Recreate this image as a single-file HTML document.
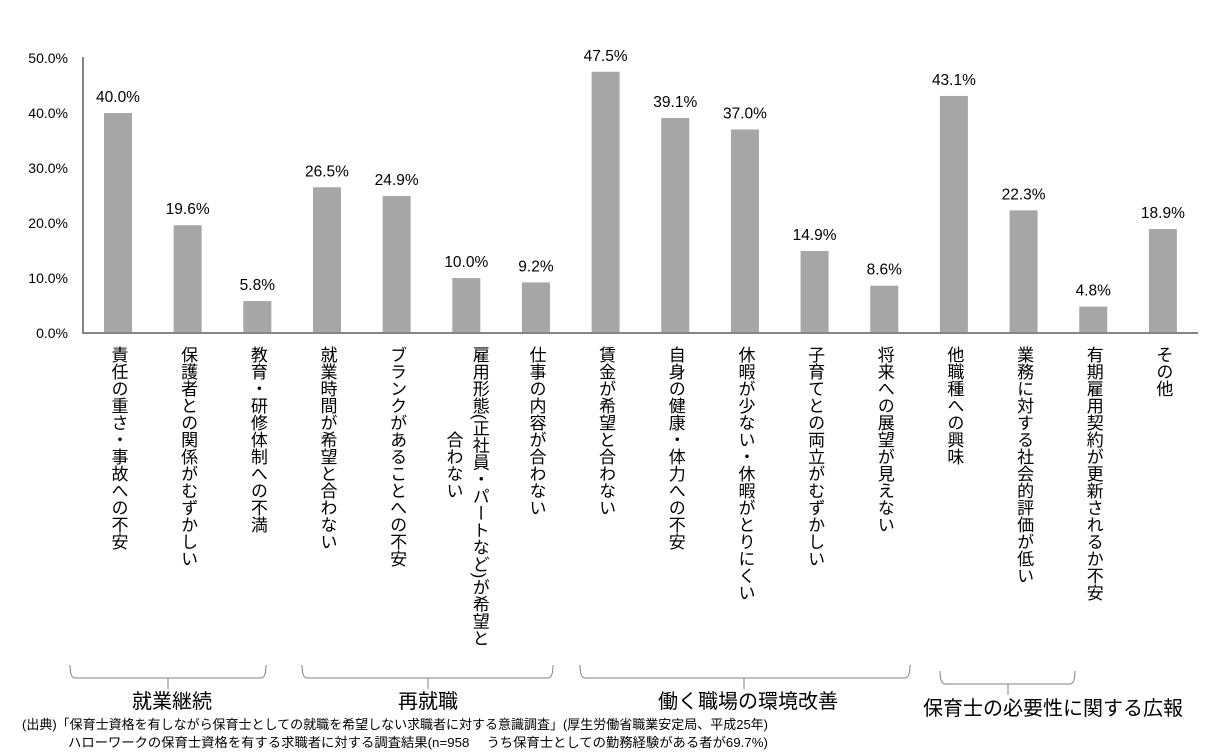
<!DOCTYPE html>
<html><head><meta charset="utf-8"><style>
body{margin:0;background:#fff;}
svg{display:block;font-family:"Liberation Sans","Noto Sans CJK JP",sans-serif;}
.v{writing-mode:vertical-rl;font-size:17px;fill:#000;}
</style></head><body>
<svg width="1216" height="756" viewBox="0 0 1216 756">
<g font-size="14" text-anchor="end" fill="#000">
<text x="68" y="63">50.0%</text>
<text x="68" y="118">40.0%</text>
<text x="68" y="173">30.0%</text>
<text x="68" y="228">20.0%</text>
<text x="68" y="283">10.0%</text>
<text x="68" y="338">0.0%</text>
</g>
<g fill="#a6a6a6" id="bars"></g>
<g font-size="15.5" text-anchor="middle" fill="#000" id="vals"></g>
<line x1="83" y1="57" x2="83" y2="333" stroke="#868686" stroke-width="2"/>
<line x1="82" y1="333" x2="1198" y2="333" stroke="#868686" stroke-width="2"/>
<g id="cats"></g>
<g fill="none" stroke="#808080" stroke-width="1">
<path d="M70,665 Q70,678 75,678 L261,678 Q266,678 266,665 M168,678 V689"/>
<path d="M302,665 Q302,678 307,678 L548,678 Q553,678 553,665 M428,678 V689"/>
<path d="M580,665 Q580,678 585,678 L905,678 Q910,678 910,665 M744,678 V689"/>
<path d="M940,671 Q940,684 945,684 L1070,684 Q1075,684 1075,671 M1008,684 V695"/>
</g>
<g font-size="20" text-anchor="middle" fill="#000">
<text x="172" y="708">就業継続</text>
<text x="428" y="708">再就職</text>
<text x="748" y="708">働く職場の環境改善</text>
<text x="1053" y="715">保育士の必要性に関する広報</text>
</g>
<g font-size="13" fill="#000">
<text x="22" y="729" textLength="746" lengthAdjust="spacingAndGlyphs">(出典)「保育士資格を有しながら保育士としての就職を希望しない求職者に対する意識調査」(厚生労働省職業安定局、平成25年)</text>
<text x="68" y="747" textLength="700" lengthAdjust="spacingAndGlyphs">ハローワークの保育士資格を有する求職者に対する調査結果(n=958　 うち保育士としての勤務経験がある者が69.7%)</text>
</g>
</svg>
<script>
var vals=[40.0,19.6,5.8,26.5,24.9,10.0,9.2,47.5,39.1,37.0,14.9,8.6,43.1,22.3,4.8,18.9];
var cats=["責任の重さ・事故への不安","保護者との関係がむずかしい","教育・研修体制への不満","就業時間が希望と合わない","ブランクがあることへの不安","雇用形態(正社員・パートなど)が希望と","仕事の内容が合わない","賃金が希望と合わない","自身の健康・体力への不安","休暇が少ない・休暇がとりにくい","子育てとの両立がむずかしい","将来への展望が見えない","他職種への興味","業務に対する社会的評価が低い","有期雇用契約が更新されるか不安","その他"];
var ns="http://www.w3.org/2000/svg";
function el(t,a,txt,p){var e=document.createElementNS(ns,t);for(var k in a)e.setAttribute(k,a[k]);if(txt)e.textContent=txt;document.getElementById(p).appendChild(e);return e;}
for(var i=0;i<16;i++){
 var cx=118+i*69.66, h=vals[i]*5.5, y=333-h;
 el("rect",{x:cx-14,y:y,width:28,height:h},null,"bars");
 el("text",{x:cx,y:y-11},vals[i].toFixed(1)+"%","vals");
 var tx=cx+(i==5?13:0);
 el("text",{x:tx,y:346,class:"v"},cats[i],"cats");
}
el("text",{x:453,y:346,class:"v"},"　　　　　合わない","cats");
</script>
</body></html>
